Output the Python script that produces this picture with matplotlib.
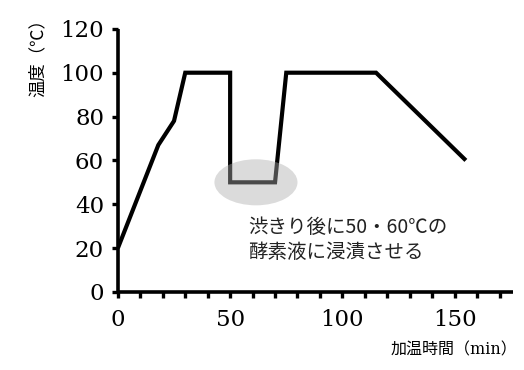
import matplotlib
matplotlib.use("Agg")
import matplotlib.pyplot as plt
from matplotlib.patches import Ellipse

# heating profile (time in min, temperature in ℃)
time_min = [0, 18, 25, 30, 50, 50, 70, 75, 115, 155]
temp_c = [20, 67, 78, 100, 100, 50, 50, 100, 100, 60]

x_major = [0, 50, 100, 150]
x_minor = list(range(0, 171, 10))
y_ticks = [0, 20, 40, 60, 80, 100, 120]

note = "渋きり後に50・60℃の\n酵素液に浸漬させる"

jp = ["Noto Sans CJK JP", "DejaVu Sans"]
serif_jp = ["DejaVu Serif", "Noto Sans CJK JP"]

fig = plt.figure(figsize=(5.24, 3.70), dpi=100)
ax = fig.add_axes([0.225, 0.211, 0.754, 0.711])

ax.plot(time_min, temp_c, color="black", lw=3, solid_joinstyle="miter",
        solid_capstyle="butt", zorder=3)

# highlight of the enzyme soak step
ax.add_patch(Ellipse((61.5, 50), 37, 21, facecolor="#acacac",
                     edgecolor="none", alpha=0.43, zorder=4))

ax.text(58, 34, note, family=jp, fontsize=14, va="top", ha="left",
        linespacing=1.2, color="#222222")

ax.set_xlim(0, 176)
ax.set_ylim(0, 120)

ax.set_xticks(x_major)
ax.set_xticks(x_minor, minor=True)
ax.set_yticks(y_ticks)

for side in ("top", "right"):
    ax.spines[side].set_visible(False)
for side in ("left", "bottom"):
    ax.spines[side].set_linewidth(2.6)
    ax.spines[side].set_capstyle("butt")

ax.tick_params(axis="both", which="both", direction="out", width=2.4,
               length=4, color="black")
ax.tick_params(axis="x", which="major", pad=8)
ax.tick_params(axis="y", which="major", pad=6)

for lab in ax.get_xticklabels() + ax.get_yticklabels():
    lab.set_family("DejaVu Serif")
    lab.set_fontsize(16.5)

fig.text(0.072, 0.855, "温度（℃）", family=jp, fontsize=12.5, rotation=90,
         ha="center", va="center")
fig.text(0.988, 0.053, "加温時間（min）", family=serif_jp, fontsize=11.5,
         ha="right", va="center")

fig.savefig("out.png", dpi=100)
plt.close(fig)
